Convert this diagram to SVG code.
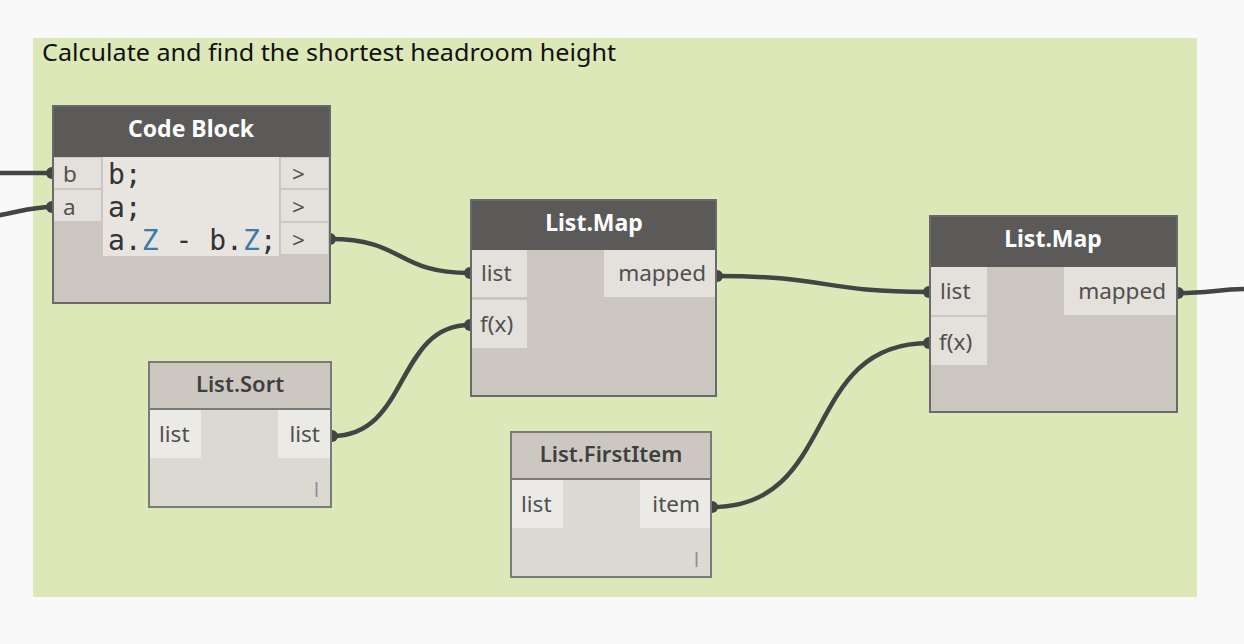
<svg xmlns="http://www.w3.org/2000/svg" width="1244" height="644" viewBox="0 0 1244 644">
<style>
.ui{font-family:"Noto Sans","Open Sans","Liberation Sans",sans-serif}
.hdrD{font-family:"Noto Sans","Open Sans",sans-serif;font-weight:bold;font-size:23px;fill:#ffffff;text-anchor:middle}
.hdrL{font-family:"Noto Sans","Open Sans",sans-serif;font-weight:600;font-size:22px;fill:#3f3f3f;text-anchor:middle}
.port{font-family:"Noto Sans","Open Sans",sans-serif;font-size:22.5px;fill:#505050}
.code{font-family:"DejaVu Sans Mono","Liberation Mono",monospace;font-size:28px;fill:#333333}
.wire{fill:none;stroke:#444444;stroke-width:4.5;stroke-linecap:round}
.nub{fill:#444444}
.frameD{fill:#cbc7c0;stroke:#6a6a6a;stroke-width:2}
.frameL{fill:#dcd9d3;stroke:#7a7a78;stroke-width:2}
.hdD{fill:#5b5a58}
.hdL{fill:#ccc8c1}
.pD{fill:#e4e1dc}
.pL{fill:#eceae6}
.lace{font-family:"Noto Sans",sans-serif;font-size:19px;fill:#8a8f98}
</style>
<rect x="0" y="0" width="1244" height="644" fill="#f9f9f9"/>
<g id="group">
<rect x="33" y="38" width="1164" height="559" fill="#dde8b9"/>
<text x="42" y="61" class="ui" font-size="23.5" fill="#111111" textLength="574" lengthAdjust="spacingAndGlyphs">Calculate and find the shortest headroom height</text>
</g>
<g id="connectors">
<path class="wire" d="M-5,173 L52,173"/>
<path class="wire" d="M-5,216 C20,212 30,207 52,207"/>
<path class="wire" d="M330,239 C405,239 395,273 470,273"/>
<path class="wire" d="M332,436 C410,436 395,325 470,325"/>
<path class="wire" d="M717,276 C830,276 820,292 929,292"/>
<path class="wire" d="M712,507 C840,507 800,343 929,343"/>
<path class="wire" d="M1178,293 C1210,293 1220,289 1250,289"/>
<circle class="nub" cx="52" cy="173" r="6"/>
<circle class="nub" cx="52" cy="207" r="6"/>
<circle class="nub" cx="330" cy="239" r="6"/>
<circle class="nub" cx="470" cy="273" r="6"/>
<circle class="nub" cx="470" cy="325" r="6"/>
<circle class="nub" cx="332" cy="436" r="6"/>
<circle class="nub" cx="717" cy="276" r="6"/>
<circle class="nub" cx="929" cy="292" r="6"/>
<circle class="nub" cx="929" cy="343" r="6"/>
<circle class="nub" cx="712" cy="507" r="6"/>
<circle class="nub" cx="1178" cy="293" r="6"/>
</g>
<g id="codeblock">
<rect class="frameD" x="53" y="106" width="277" height="197"/>
<rect class="hdD" x="54" y="107" width="275" height="50"/>
<text class="hdrD" x="191" y="137">Code Block</text>
<rect class="pD" x="54" y="158" width="47" height="30"/>
<rect class="pD" x="54" y="190" width="47" height="31"/>
<text class="port" x="63" y="182">b</text>
<text class="port" x="63" y="215">a</text>
<rect x="103" y="157" width="176" height="99" fill="#e8e5e1"/>
<rect class="pD" x="281" y="158" width="47" height="30"/>
<rect class="pD" x="281" y="190" width="47" height="31"/>
<rect class="pD" x="281" y="223" width="47" height="31"/>
<text class="port" x="292" y="182">&gt;</text>
<text class="port" x="292" y="215">&gt;</text>
<text class="port" x="292" y="248">&gt;</text>
<text class="code" x="108" y="184">b;</text>
<text class="code" x="108" y="217">a;</text>
<text class="code" x="108" y="250">a.<tspan fill="#3d7aa6">Z</tspan> - b.<tspan fill="#3d7aa6">Z</tspan>;</text>
</g>
<g id="listmap1">
<rect class="frameD" x="471" y="200" width="245" height="196"/>
<rect class="hdD" x="472" y="201" width="243" height="49"/>
<text class="hdrD" x="594" y="231">List.Map</text>
<rect class="pD" x="472" y="250" width="55" height="47"/>
<rect class="pD" x="472" y="300" width="55" height="48"/>
<rect class="pD" x="604" y="250" width="111" height="47"/>
<text class="port" x="481" y="281">list</text>
<text class="port" x="480" y="332">f(x)</text>
<text class="port" x="706" y="281" text-anchor="end">mapped</text>
</g>
<g id="listmap2">
<rect class="frameD" x="930" y="216" width="247" height="196"/>
<rect class="hdD" x="931" y="217" width="245" height="50"/>
<text class="hdrD" x="1053" y="247">List.Map</text>
<rect class="pD" x="931" y="267" width="56" height="48"/>
<rect class="pD" x="931" y="317" width="56" height="48"/>
<rect class="pD" x="1064" y="267" width="112" height="48"/>
<text class="port" x="940" y="299">list</text>
<text class="port" x="939" y="350">f(x)</text>
<text class="port" x="1166" y="299" text-anchor="end">mapped</text>
</g>
<g id="listsort">
<rect class="frameL" x="149" y="362" width="182" height="145"/>
<rect class="hdL" x="150" y="363" width="180" height="46"/>
<line x1="150" y1="409" x2="330" y2="409" stroke="#7a7a78" stroke-width="2"/>
<text class="hdrL" x="240" y="392">List.Sort</text>
<rect class="pL" x="150" y="410" width="51" height="48"/>
<rect class="pL" x="278" y="410" width="52" height="48"/>
<text class="port" x="159" y="442">list</text>
<text class="port" x="320" y="442" text-anchor="end">list</text>
<text class="lace" x="314" y="497">l</text>
</g>
<g id="firstitem">
<rect class="frameL" x="511" y="432" width="200" height="145"/>
<rect class="hdL" x="512" y="433" width="198" height="46"/>
<line x1="512" y1="479" x2="710" y2="479" stroke="#7a7a78" stroke-width="2"/>
<text class="hdrL" x="611" y="462">List.FirstItem</text>
<rect class="pL" x="512" y="480" width="51" height="48"/>
<rect class="pL" x="640" y="480" width="70" height="48"/>
<text class="port" x="521" y="512">list</text>
<text class="port" x="700" y="512" text-anchor="end">item</text>
<text class="lace" x="694" y="567">l</text>
</g>
</svg>
